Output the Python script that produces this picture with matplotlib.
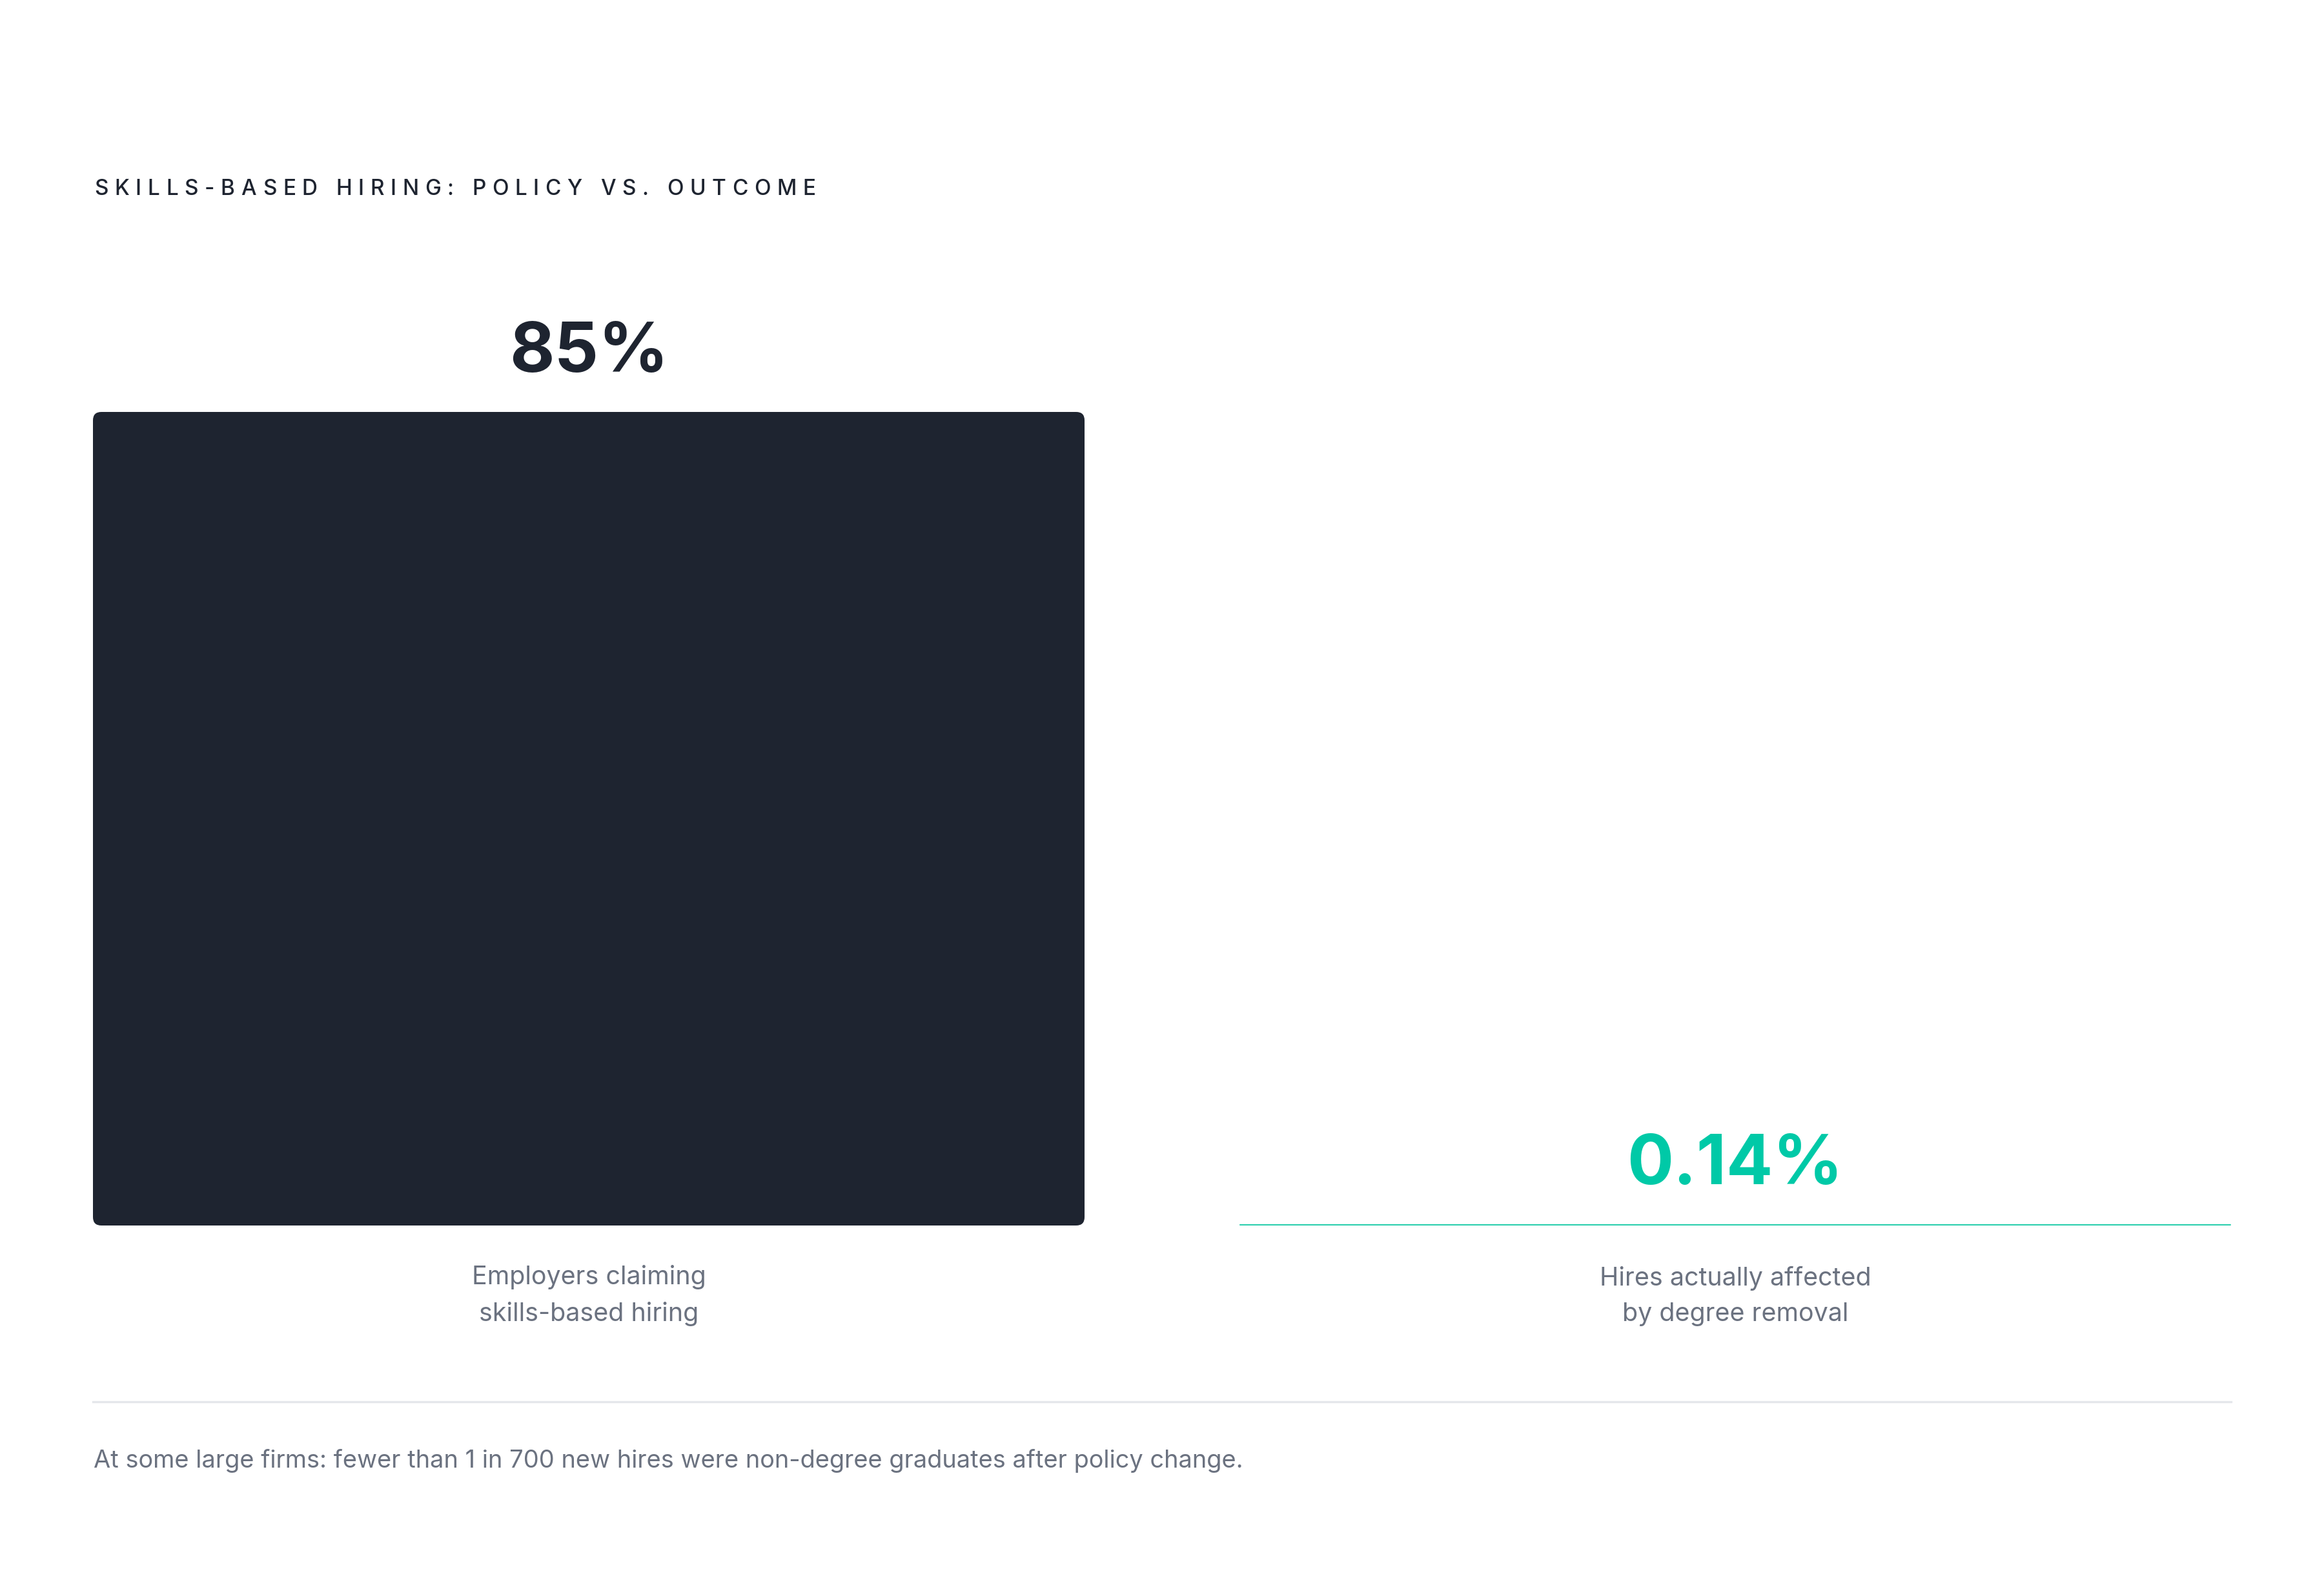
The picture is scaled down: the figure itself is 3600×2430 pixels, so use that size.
import matplotlib
matplotlib.use("Agg")
import matplotlib.pyplot as plt
from matplotlib.patches import FancyBboxPatch
from matplotlib.lines import Line2D
from matplotlib.text import Text
from matplotlib.transforms import IdentityTransform
from matplotlib.font_manager import findfont
from matplotlib.ft2font import FT2Font

plt.rcParams['font.family'] = ['Inter', 'DejaVu Sans']

# ---- data ----
categories = ["Employers claiming\nskills-based hiring", "Hires actually affected\nby degree removal"]
values = [85, 0.14]
value_labels = ["85%", "0.14%"]
bar_colors = ["#1e2430", "#2ccfae"]
label_colors = ["#1e2430", "#00c9a7"]
title = "SKILLS-BASED HIRING: POLICY VS. OUTCOME"
footnote = "At some large firms: fewer than 1 in 700 new hires were non-degree graduates after policy change."


class TrackedText(Text):
    """A single text artist drawn with extra letter spacing (tracking, in em)."""

    def __init__(self, *args, tracking=0.0, **kwargs):
        super().__init__(*args, **kwargs)
        self._tracking = tracking

    def draw(self, renderer):
        if not self.get_visible() or self.get_text() == "":
            return
        prop = self.get_fontproperties()
        font = FT2Font(findfont(prop))
        font.set_size(prop.get_size_in_points(), renderer.dpi)
        size_px = prop.get_size_in_points() * renderer.dpi / 72.0
        track = self._tracking * size_px
        x0, y0 = self.get_transform().transform(self.get_unitless_position())
        s = self.get_text()
        advs = [font.load_char(ord(c)).linearHoriAdvance / 65536.0 for c in s]
        total = sum(advs) + track * (len(s) - 1)
        ha = self.get_horizontalalignment()
        if ha == "center":
            x = x0 - total / 2
        elif ha == "right":
            x = x0 - total
        else:
            x = x0
        for c, a in zip(s, advs):
            if c != " ":
                t = Text(x, y0, c, fontproperties=prop, color=self.get_color(),
                         ha="left", va=self.get_verticalalignment(),
                         transform=IdentityTransform())
                t.set_figure(self.get_figure())
                t.draw(renderer)
            x += a + track


W, H = 3600, 2430
DPI = 200
fig = plt.figure(figsize=(W / DPI, H / DPI), dpi=DPI)
fig.patch.set_facecolor("white")


def fx(x):
    return x / W


def fy(y):
    return 1 - y / H


# axes region in pixels
ax_left, ax_right = 144, 3456
ax_top, ax_bottom = 638, 1898
ax = fig.add_axes([fx(ax_left), fy(ax_bottom), fx(ax_right - ax_left), (ax_bottom - ax_top) / H])
ax.set_axis_off()

n = len(values)
pos = list(range(n))
bar_w = 0.8649
ax.set_xlim(-bar_w / 2, (n - 1) + bar_w / 2)
ymax = max(values)
ax.set_ylim(0, ymax)

# pixel scales for rounded corners
px_per_x = (ax_right - ax_left) / ((n - 1) + bar_w)
px_per_y = (ax_bottom - ax_top) / ymax
aspect = px_per_x / px_per_y
r_px = 13
for i, (p, v) in enumerate(zip(pos, values)):
    r = r_px / px_per_x
    r = min(r, (v / aspect) / 2)
    patch = FancyBboxPatch((p - bar_w / 2, 0), bar_w, v,
                           boxstyle=f"round,pad=0,rounding_size={r}",
                           mutation_aspect=aspect,
                           facecolor=bar_colors[i], edgecolor="none", linewidth=0)
    ax.add_patch(patch)
    # value label above bar
    ax.annotate(value_labels[i], xy=(p, v), xytext=(0, 62), textcoords="offset pixels",
                ha="center", va="baseline", fontsize=38.5, fontweight="bold",
                color=label_colors[i])
    # category label below bar
    ax.annotate(categories[i], xy=(p, 0), xytext=(0, -148), textcoords="offset pixels",
                ha="center", va="baseline", fontsize=14.2, color="#6b7280",
                linespacing=1.62, multialignment="center")

# title (letter-spaced)
title_artist = TrackedText(fx(146), fy(302), title, ha="left", va="baseline",
                           fontsize=12.0, fontweight="medium", color="#1e2430",
                           tracking=0.29, transform=fig.transFigure)
fig.add_artist(title_artist)

# separator
fig.add_artist(Line2D([fx(144), fx(3456)], [fy(2171), fy(2171)], color="#e5e7eb",
                      linewidth=1.2, transform=fig.transFigure))

# footnote
fig.text(fx(145), fy(2273), footnote, ha="left", va="baseline", fontsize=13.7,
         color="#6b7280")

fig.savefig("out.png", dpi=DPI, facecolor="white")
